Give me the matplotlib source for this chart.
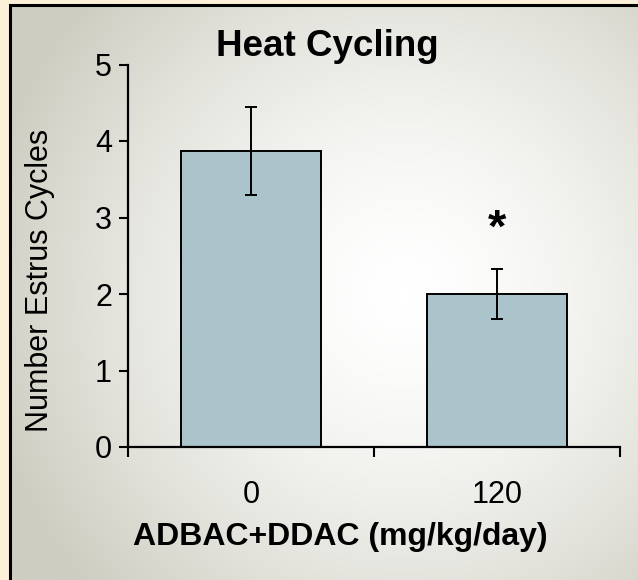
import matplotlib.pyplot as plt
import numpy as np
from matplotlib.colors import LinearSegmentedColormap
from matplotlib.patches import Rectangle

plt.rcParams["font.family"] = ["Liberation Sans", "DejaVu Sans"]

# Data
doses = ["0", "120"]
cycles = [3.87, 2.0]
errors = [0.58, 0.33]
significant = [False, True]

W, H = 638, 580
fig = plt.figure(figsize=(W / 100, H / 100), dpi=100)
fig.patch.set_facecolor("#FDF0D9")

# Panel background with soft radial gradient
bg = fig.add_axes([10 / W, 0, 1 - 10 / W, 1 - 5 / H], zorder=-10)
yy, xx = np.mgrid[0:H, 0:W]
dist = np.sqrt((xx - 400) ** 2 + (yy - 290) ** 2) / 440
dist = np.clip(dist, 0, 1) ** 1.5
cmap = LinearSegmentedColormap.from_list("bg", ["#FFFFFF", "#CECDC1"])
bg.imshow(dist, cmap=cmap, vmin=0, vmax=1, aspect="auto", extent=[0, 1, 0, 1])
bg.set_xlim(0, 1)
bg.set_ylim(0, 1)
bg.axis("off")
bg.add_patch(Rectangle((0, -0.2), 1.2, 1.2, transform=bg.transAxes, fill=False,
                       edgecolor="black", linewidth=2.2, clip_on=False))

ax = fig.add_axes([128 / W, 133 / H, 492 / W, 382.5 / H])
ax.patch.set_alpha(0)
x = np.arange(len(doses))
ax.bar(x, cycles, width=0.57, color="#ABC3CA", edgecolor="black", linewidth=1.4,
       yerr=errors, capsize=4.3, error_kw=dict(elinewidth=1.4, capthick=1.4, ecolor="black"))

for i, sig in enumerate(significant):
    if sig:
        ax.text(x[i], cycles[i] + errors[i] + 0.51, "*", ha="center", va="center",
                fontsize=34, fontweight="bold")

ax.set_xlim(-0.5, 1.5)
ax.set_ylim(0, 5)
ax.set_yticks(range(6))
ax.set_xticks([-0.5, 0.5, 1.5])
ax.set_xticklabels([])
ax.set_xticks(x, minor=True)
ax.set_xticklabels(doses, minor=True)
ax.tick_params(axis="x", which="major", length=7.5, width=1.5, direction="out")
ax.tick_params(axis="x", which="minor", length=0, pad=24, labelsize=22)
ax.tick_params(axis="y", length=6.5, width=1.5, direction="out", labelsize=22, pad=5)
for side in ["top", "right"]:
    ax.spines[side].set_visible(False)
for side in ["left", "bottom"]:
    ax.spines[side].set_linewidth(1.6)

fig.text(340 / W, 1 - 537 / H, "ADBAC+DDAC (mg/kg/day)", fontsize=23, fontweight="bold",
         ha="center", va="center")
fig.text(40 / W, 1 - 280 / H, "Number Estrus Cycles", rotation=90, fontsize=22,
         ha="center", va="center")
fig.text(327 / W, 1 - 47 / H, "Heat Cycling", fontsize=26.5, fontweight="bold",
         ha="center", va="center")

plt.savefig("out.png", dpi=100, facecolor=fig.get_facecolor())
